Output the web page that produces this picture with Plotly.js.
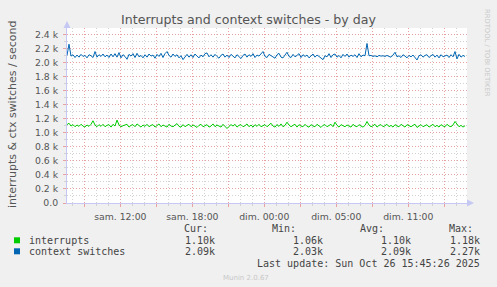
<!DOCTYPE html>
<html>
<head>
<meta charset="utf-8">
<script src="https://cdn.plot.ly/plotly-3.0.1.min.js"></script>
<style>html,body{margin:0;padding:0;background:#F0F0F0;}#chart{width:497px;height:287px;}</style>
</head>
<body>
<div id="chart"></div>
<script>
// ---- data (values per second, 10-minute samples, hours since graph start) ----
const stepHours = 1 / 6;
const seriesNames = ["interrupts", "context switches"];
const seriesColors = ["#00CC00", "#0066B3"];

const interrupts = [
1115,1135,1095,1115,1085,1110,1090,1120,1095,1080,1110,1090,1120,1170,1110,1085,1115,1090,1120,1085,
1105,1115,1080,1120,1095,1180,1110,1085,1100,1115,1120,1080,1105,1115,1085,1125,1095,1080,1110,1090,
1120,1085,1105,1115,1080,1100,1125,1085,1110,1095,1080,1120,1095,1085,1115,1130,1090,1080,1115,1085,
1105,1120,1085,1110,1095,1075,1105,1120,1085,1100,1115,1080,1095,1125,1085,1110,1095,1080,1120,1090,
1060,1090,1115,1095,1120,1080,1105,1115,1085,1100,1125,1085,1110,1080,1115,1090,1120,1085,1105,1115,
1085,1105,1135,1095,1080,1115,1090,1125,1085,1105,1150,1110,1085,1105,1120,1080,1115,1095,1085,1120,
1090,1080,1115,1095,1085,1120,1095,1075,1105,1115,1085,1100,1120,1085,1150,1105,1080,1115,1095,1085,
1110,1095,1080,1120,1095,1085,1115,1095,1080,1105,1160,1110,1085,1100,1120,1080,1105,1115,1085,1100,
1120,1085,1105,1080,1115,1095,1085,1120,1100,1080,1115,1095,1085,1105,1120,1075,1095,1115,1085,1105,
1115,1080,1100,1120,1085,1105,1080,1115,1095,1085,1120,1095,1085,1110,1160,1115,1085,1105,1080,1100
];

const contextSwitches = [
2100,2260,2090,2110,2070,2105,2075,2115,2085,2100,2065,2110,2095,2070,2155,2075,2110,2085,2120,2080,
2105,2070,2120,2080,2125,2075,2140,2065,2110,2085,2045,2115,2090,2125,2070,2130,2080,2100,2065,2110,
2075,2120,2090,2105,2060,2115,2085,2130,2070,2125,2155,2100,2075,2120,2085,2110,2065,2095,2040,2080,
2115,2075,2110,2070,2120,2090,2065,2105,2080,2125,2135,2080,2110,2075,2115,2085,2060,2100,2120,2075,
2105,2070,2115,2090,2065,2110,2080,2055,2100,2120,2075,2110,2085,2125,2070,2105,2090,2120,2155,2085,
2070,2115,2095,2080,2060,2110,2130,2075,2065,2105,2145,2085,2070,2115,2080,2100,2125,2070,2110,2085,
2105,2065,2095,2120,2075,2105,2085,2065,2040,2095,2080,2125,2070,2110,2120,2075,2100,2065,2115,2085,
2120,2075,2105,2085,2110,2070,2125,2080,2105,2095,2270,2095,2100,2085,2095,2080,2100,2090,2095,2085,
2100,2085,2075,2105,2145,2080,2095,2070,2110,2090,2065,2100,2080,2105,2070,2035,2095,2110,2075,2100,
2110,2070,2095,2115,2075,2105,2065,2110,2080,2095,2105,2070,2110,2080,2155,2050,2115,2075,2100,2085
];

// x tick labels (hours since graph start) – local time, DST ends Sunday
const xTickVals = [1.444, 4.444, 7.444, 10.444, 13.444, 16.444, 19.444, 22.444, 25.444, 28.444, 31.444];
const xTickText = ["", "sam. 12:00", "", "sam. 18:00", "", "dim. 00:00", "", "dim. 05:00", "", "dim. 11:00", ""];
const yTickVals = [0, 200, 400, 600, 800, 1000, 1200, 1400, 1600, 1800, 2000, 2200, 2400];
const yTickText = ["0.0", "0.2 k", "0.4 k", "0.6 k", "0.8 k", "1.0 k", "1.2 k", "1.4 k", "1.6 k", "1.8 k", "2.0 k", "2.2 k", "2.4 k"];

// legend statistics
const statHeaders = ["Cur:", "Min:", "Avg:", "Max:"];
const statCur = ["1.10k", "2.09k"];
const statMin = ["1.06k", "2.03k"];
const statAvg = ["1.10k", "2.09k"];
const statMax = ["1.18k", "2.27k"];
const lastUpdate = "Last update: Sun Oct 26 15:45:26 2025";

// ---- drawing ----
const W = 497, H = 287, L = 67, R = 30, T = 28, B = 84;
const PW = W - L - R, PH = H - T - B;
const px = x => (x - L) / PW;              // pixel x -> paper
const py = y => (H - B - y) / PH;          // pixel y -> paper

const times = interrupts.map((_, i) => i * stepHours);
const allSeries = [interrupts, contextSwitches];

const traces = allSeries.map((vals, k) => ({
  type: "scatter", mode: "lines", name: seriesNames[k],
  x: times, y: vals,
  line: {color: seriesColors[k], width: 1},
  hoverinfo: "skip"
}));

const mono = {family: "DejaVu Sans Mono", size: 10, color: "#444"};
const ann = [];
ann.push({xref: "paper", yref: "paper", x: px(12), y: py(115), text: "interrupts & ctx switches / second",
  textangle: -90, showarrow: false, xanchor: "center", yanchor: "middle",
  font: {family: "DejaVu Sans", size: 11, color: "#555"}});
ann.push({xref: "paper", yref: "paper", x: px(487), y: py(53), text: "RRDTOOL / TOBI OETIKER",
  textangle: 90, showarrow: false, xanchor: "center", yanchor: "middle",
  font: {family: "DejaVu Sans", size: 6.8, color: "#C8C8C8"}});
const headerLeft = [181.7, 270, 358.3, 446.7];
statHeaders.forEach((h, i) => ann.push({xref: "paper", yref: "paper", x: px(headerLeft[i]), y: py(228.5),
  text: h, showarrow: false, xanchor: "left", yanchor: "middle", font: mono}));
const colRight = [216.7, 325, 413.3, 482.3];
const rowY = [240.3, 251.3];
const cols = [statCur, statMin, statAvg, statMax];
seriesNames.forEach((n, r) => {
  ann.push({xref: "paper", yref: "paper", x: px(26.5), y: py(rowY[r]), text: n, showarrow: false,
    xanchor: "left", yanchor: "middle", font: mono});
  cols.forEach((c, j) => ann.push({xref: "paper", yref: "paper", x: px(colRight[j]), y: py(rowY[r]),
    text: c[r], showarrow: false, xanchor: "right", yanchor: "middle", font: mono}));
});
ann.push({xref: "paper", yref: "paper", x: px(482.3), y: py(263.3), text: lastUpdate, showarrow: false,
  xanchor: "right", yanchor: "middle", font: mono});
ann.push({xref: "paper", yref: "paper", x: px(246), y: py(277.5), text: "Munin 2.0.67", showarrow: false,
  xanchor: "center", yanchor: "middle", font: {family: "DejaVu Sans", size: 7, color: "#C8C8C8"}});

const axisCol = "#C4C8F2";
const shapes = [];
seriesColors.forEach((c, r) => shapes.push({type: "rect", xref: "paper", yref: "paper",
  x0: px(14), x1: px(20), y0: py(rowY[r] + 3), y1: py(rowY[r] - 3),
  fillcolor: c, line: {width: 0}}));
shapes.push({type: "path", xref: "paper", yref: "paper",
  path: `M ${px(63.5)} ${py(28)} L ${px(70.5)} ${py(28)} L ${px(67)} ${py(21)} Z`,
  fillcolor: axisCol, line: {width: 0}});
shapes.push({type: "path", xref: "paper", yref: "paper",
  path: `M ${px(467)} ${py(199.5)} L ${px(467)} ${py(206.5)} L ${px(474)} ${py(203)} Z`,
  fillcolor: axisCol, line: {width: 0}});

const majorGrid = "#E9A0A0", minorGrid = "#D2D2D2", dotDash = "1px,2px";
const layout = {
  width: W, height: H,
  margin: {l: L, r: R, t: T, b: B, pad: 0},
  paper_bgcolor: "#F0F0F0", plot_bgcolor: "#FFFFFF",
  showlegend: false, hovermode: false,
  title: {text: "Interrupts and context switches - by day", x: 0.5, xref: "container",
    y: 1 - 19.5 / H, yref: "container", xanchor: "center", yanchor: "middle",
    font: {family: "DejaVu Sans", size: 12.6, color: "#555"}},
  xaxis: {
    range: [0, PW / 12], fixedrange: true,
    tickmode: "array", tickvals: xTickVals, ticktext: xTickText,
    showgrid: true, gridcolor: majorGrid, griddash: dotDash, gridwidth: 1,
    ticks: "outside", ticklen: 3, tickcolor: majorGrid,
    showline: true, linecolor: axisCol, linewidth: 1,
    zeroline: false, ticklabelstandoff: 2,
    tickfont: {family: "DejaVu Sans", size: 9.3, color: "#555"},
    minor: {tick0: 0.444, dtick: 1, showgrid: true, gridcolor: minorGrid, griddash: dotDash, gridwidth: 1,
      ticks: "outside", ticklen: 2, tickcolor: minorGrid}
  },
  yaxis: {
    range: [0, 2490], fixedrange: true,
    tickmode: "array", tickvals: yTickVals, ticktext: yTickText,
    showgrid: true, gridcolor: majorGrid, griddash: dotDash, gridwidth: 1,
    ticks: "outside", ticklen: 3, tickcolor: majorGrid,
    showline: true, linecolor: axisCol, linewidth: 1,
    zeroline: false, ticklabelstandoff: 3,
    tickfont: {family: "DejaVu Sans", size: 9.3, color: "#555"},
    minor: {tick0: 0, dtick: 100, showgrid: true, gridcolor: minorGrid, griddash: dotDash, gridwidth: 1,
      ticks: "outside", ticklen: 2, tickcolor: minorGrid}
  },
  annotations: ann,
  shapes: shapes
};

Plotly.newPlot("chart", traces, layout, {staticPlot: true, displayModeBar: false});
</script>
</body>
</html>
